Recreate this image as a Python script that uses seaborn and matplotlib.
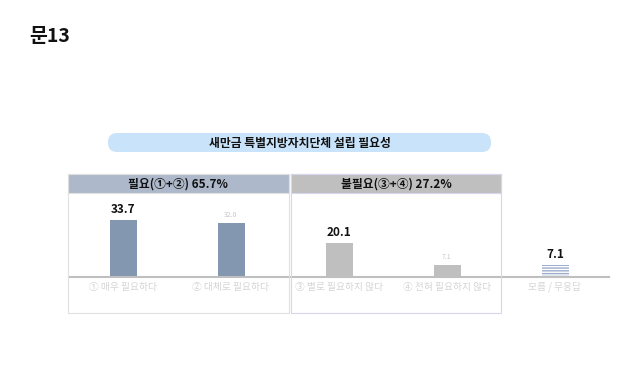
import matplotlib
matplotlib.use('Agg')
import matplotlib.pyplot as plt
import matplotlib.transforms as mtransforms
import seaborn as sns
from matplotlib.patches import Rectangle, FancyBboxPatch

# data
categories = ['① 매우 필요하다', '② 대체로 필요하다', '③ 별로 필요하지 않다',
              '④ 전혀 필요하지 않다', '모름 / 무응답']
values = [33.7, 32.0, 20.1, 7.1, 7.1]
bar_colors = ['#8497b0', '#8497b0', '#bfbfbf', '#bfbfbf', '#ffffff']
label_bold = [True, False, True, False, True]

chart_title = '새만금 특별지방자치단체 설립 필요성'
group_titles = ['필요(①+②) 65.7%', '불필요(③+④) 27.2%']
page_title = '문13'

sns.set_theme(style='white')
plt.rcParams['font.family'] = ['Noto Sans CJK KR', 'DejaVu Sans']
plt.rcParams['hatch.linewidth'] = 1.0

W, H = 640, 387
fig = plt.figure(figsize=(W / 100, H / 100), dpi=100)


def px(x, y):
    return (x / W, 1 - y / H)


def box(x0, y0, x1, y1, **kw):
    r = Rectangle(px(x0, y1), (x1 - x0) / W, (y1 - y0) / H,
                  transform=fig.transFigure, **kw)
    fig.add_artist(r)


# page title
fig.text(*px(29, 36), page_title, fontsize=14, fontweight='bold',
         va='center', ha='left', color='#111111')

# rounded title box (pixel coordinates, origin bottom-left)
rb = FancyBboxPatch((108, H - 152), 491 - 108, 152 - 133,
                    boxstyle='round,pad=0,rounding_size=9',
                    transform=mtransforms.IdentityTransform(),
                    facecolor='#c9e3fa', edgecolor='none')
fig.add_artist(rb)
fig.text(*px(300, 143), chart_title, fontsize=8.5, fontweight='bold',
         ha='center', va='center', color='#111111')

# group boxes
box(68, 174, 289, 313, facecolor='none', edgecolor='#e0e0e0', linewidth=0.8)
box(291, 174, 501, 313, facecolor='none', edgecolor='#d6d6ee', linewidth=0.8)
box(68, 174, 289, 193, facecolor='#adb9ca', edgecolor='#e0e0e0', linewidth=0.8)
box(291, 174, 501, 193, facecolor='#bfbfbf', edgecolor='#d6d6ee', linewidth=0.8)
fig.text(*px(178, 184), group_titles[0], fontsize=8.5, fontweight='bold',
         ha='center', va='center', color='#111111')
fig.text(*px(396, 184), group_titles[1], fontsize=8.5, fontweight='bold',
         ha='center', va='center', color='#111111')

# bar axes
ax = fig.add_axes([69 / W, (H - 277) / H, 540 / W, 84.5 / H])
ax.patch.set_alpha(0)
sns.barplot(x=categories, y=values, hue=categories, palette=bar_colors,
            legend=False, width=0.25, ax=ax, saturation=1)
ax.set_xlim(-0.5, 4.5)
ax.set_ylim(0, 50)

for i, p in enumerate(ax.patches):
    p.set_linewidth(0)
    if i == 4:
        p.set_hatch('------')
        p.set_edgecolor('#9aaccb')
    v = values[i]
    cx = p.get_x() + p.get_width() / 2
    if label_bold[i]:
        ax.text(cx, v + 2.5, f'{v:.1f}', ha='center', va='bottom',
                fontsize=8.5, fontweight='bold', color='#111111')
    else:
        ax.text(cx, v + 2.5, f'{v:.1f}', ha='center', va='bottom',
                fontsize=5, color='#c8c8c8')

for s in ['top', 'right', 'left']:
    ax.spines[s].set_visible(False)
ax.spines['bottom'].set_color('#bfbfbf')
ax.spines['bottom'].set_linewidth(1.5)
ax.set_yticks([])
ax.tick_params(axis='x', length=0, pad=3.5, labelsize=7, labelcolor='#d4d4d4')
ax.set_xlabel('')
ax.set_ylabel('')

fig.savefig('out.png', dpi=100)
